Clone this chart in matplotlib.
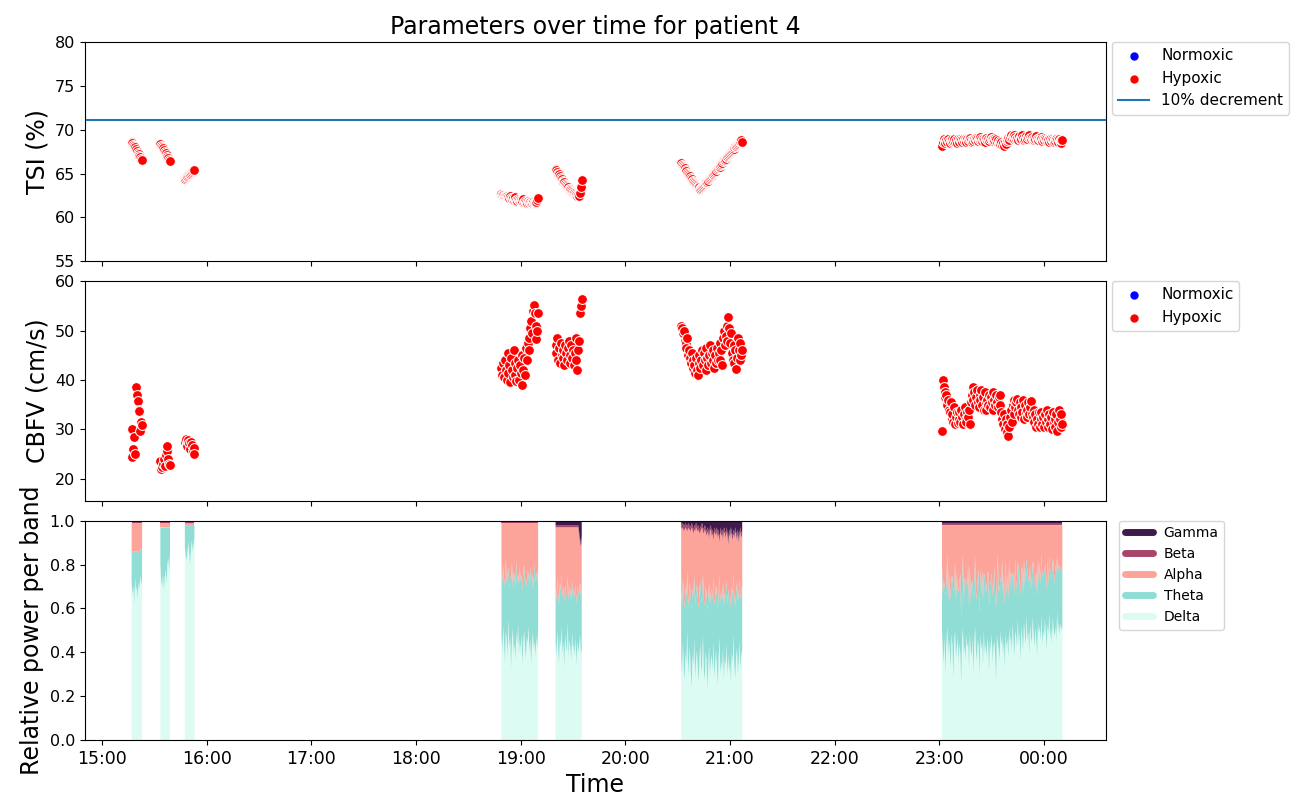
import numpy as np
import pandas as pd
import matplotlib
matplotlib.use("Agg")
import matplotlib.pyplot as plt
import matplotlib.dates as mdates
from matplotlib.lines import Line2D

# Inicio de cada tramo de registro (muestras cada 30 s)
segment_starts = ["2023-01-01 15:17:00", "2023-01-01 15:33:30", "2023-01-01 15:47:30",
                  "2023-01-01 18:49:00", "2023-01-01 19:20:00", "2023-01-01 20:32:00",
                  "2023-01-01 23:01:30"]

# TSI (%)
tsi = [
    [68.6, 68.5, 68.3, 68.2, 68.0, 67.8, 67.6, 67.4, 67.2, 67.0, 66.9, 66.7, 66.6],
    [68.4, 68.2, 68.0, 67.9, 67.7, 67.5, 67.3, 67.1, 66.9, 66.8, 66.6, 66.4],
    [64.4, 64.5, 64.6, 64.7, 64.8, 64.9, 65.0, 65.1, 65.2, 65.3, 65.4, 65.4],
    [62.7, 62.6, 62.6, 62.5, 62.5, 62.4, 62.5, 62.3, 62.3, 62.2, 62.4, 62.2, 62.1, 62.2, 62.0,
     62.1, 62.3, 62.0, 61.9, 62.1, 62.0, 61.9, 62.0, 61.8, 61.9, 62.1, 61.8, 61.9, 61.8, 61.7,
     61.9, 61.8, 61.7, 61.8, 61.7, 61.6, 61.8, 61.7, 61.6, 61.7, 61.8, 62.0, 62.2],
    [65.5, 65.4, 65.2, 65.0, 64.9, 64.7, 64.5, 64.4, 64.2, 64.1, 64.0, 63.8, 63.7, 63.6, 63.5,
     63.3, 63.2, 63.1, 63.0, 62.9, 62.8, 62.8, 62.7, 62.6, 62.6, 62.5, 62.6, 62.5, 62.8, 63.5,
     64.3],
    [66.2, 66.0, 65.9, 65.7, 65.6, 65.4, 65.3, 65.1, 65.0, 64.8, 64.7, 64.5, 64.4, 64.2, 64.1,
     63.9, 63.8, 63.7, 63.6, 63.5, 63.4, 63.5, 63.3, 63.4,
     63.5, 63.6, 63.7, 63.8, 63.9, 64.0, 64.1, 64.2, 64.4, 64.5, 64.6, 64.7, 64.8, 65.0, 65.1,
     65.2, 65.3, 65.5, 65.6, 65.7, 65.8, 66.0, 66.1, 66.2, 66.4, 66.5, 66.6, 66.7, 66.9, 67.0,
     67.1, 67.2, 67.4, 67.5, 67.6, 67.7, 67.8, 68.0, 68.1, 68.2, 68.3, 68.4, 68.5, 68.6, 68.7,
     68.8, 68.6],
    [68.2, 68.6, 68.9, 68.7, 68.5, 68.8, 68.6, 68.9, 68.7, 68.5, 68.8, 68.6, 68.9, 68.7, 69.0,
     68.6, 68.8, 68.5, 68.9, 68.7, 68.6, 69.0, 68.8, 68.6, 68.9, 68.7, 69.0, 68.8, 68.6, 68.9,
     68.7, 68.9, 69.1, 68.8, 68.6, 68.9, 68.7, 69.0, 68.8, 69.1, 68.9, 68.7, 69.0, 68.8, 69.2,
     68.9, 68.7, 69.0, 68.8, 68.6, 68.9, 69.1, 68.8, 69.0, 68.7, 68.9, 69.2, 68.9, 68.7, 69.0,
     68.8, 69.1, 68.9, 68.6, 68.8, 68.5, 68.7, 68.4, 68.6, 68.3, 68.5, 68.2, 68.6, 68.4, 68.7,
     68.9, 69.1, 68.8, 69.2, 69.4, 69.1, 69.3, 69.0, 69.4, 69.2, 68.9, 69.1, 68.8, 69.3, 69.0,
     69.2, 68.9, 69.4, 69.1, 68.8, 69.0, 69.3, 69.1, 68.9, 69.2, 69.4, 69.1, 68.9, 69.2, 69.0,
     68.8, 69.1, 68.9, 69.3, 69.0, 68.8, 69.1, 68.9, 69.2, 68.9, 68.7, 69.0, 68.8, 69.1, 68.9,
     68.7, 69.0, 68.8, 68.6, 68.9, 68.7, 69.0, 68.8, 68.6, 68.9, 68.7, 69.0, 68.8, 68.6, 68.9,
     68.7, 68.5, 68.8, 68.8],
]
tsi_threshold = 71.1  # 10% decrement

# CBFV (cm/s)
cbfv = [
    [30.0, 24.3, 26.0, 28.5, 25.0, 38.5, 36.9, 35.8, 34.0, 33.6, 29.7, 31.4, 30.8],
    [23.5, 22.0, 22.4, 23.0, 24.0, 22.6, 24.8, 25.6, 26.6, 24.0, 23.0, 22.8],
    [27.5, 28.0, 27.0, 26.5, 27.8, 27.2, 26.0, 27.5, 26.8, 25.5, 26.2, 25.0],
    [42.5, 41.0, 43.5, 40.5, 44.0, 42.0, 40.0, 45.5, 41.5, 43.0, 39.5, 44.5, 42.0, 40.5, 46.0,
     41.0, 43.5, 39.8, 42.5, 44.0, 40.0, 43.0, 41.5, 45.0, 39.0, 42.0, 44.5, 41.0, 46.5, 44.0,
     47.5, 48.6, 46.0, 50.5, 52.0, 49.5, 54.0, 55.3, 53.5, 51.0, 48.4, 50.0, 53.5],
    [47.0, 45.5, 48.5, 44.0, 46.5, 43.5, 47.5, 45.0, 44.5, 46.0, 43.0, 47.0, 45.5, 44.0, 46.5,
     48.0, 43.5, 45.0, 47.0, 44.5, 46.0, 43.0, 45.5, 48.5, 44.0, 42.0, 46.0, 48.0, 53.5, 55.0,
     56.5],
    [51.0, 50.5, 49.5, 50.0, 48.0, 47.5, 46.5, 48.5, 45.0, 46.0, 44.5, 43.5, 45.5, 42.5, 44.0,
     43.0, 41.5, 44.5, 42.0, 41.0, 43.5, 45.0, 42.5, 44.0, 46.0, 43.0, 45.5, 44.0, 42.0, 46.5,
     44.5, 43.0, 45.0, 47.0, 43.5, 45.5, 44.0, 46.0, 42.5, 45.0, 43.5, 46.5, 44.0, 45.5, 47.5,
     44.0, 46.0, 43.0, 48.5, 50.0, 47.0, 49.0, 51.0, 48.0, 52.7, 50.5, 47.5, 49.5, 45.5, 44.0,
     47.0, 43.5, 46.0, 42.3, 44.5, 48.5, 46.0, 44.0, 47.5, 45.0, 46.0],
    [29.7, 40.0, 38.5, 37.5, 36.5, 37.0, 35.0, 36.0, 34.0, 33.5, 35.5, 32.0, 33.0, 31.5, 34.5,
     31.0, 32.5, 33.5, 31.2, 32.0, 33.5, 31.5, 34.0, 32.5, 31.0, 33.0, 34.5, 32.0, 31.5, 33.5,
     32.5, 34.0, 31.0, 35.5, 37.0, 38.5, 36.0, 37.5, 35.0, 36.5, 38.0, 35.5, 34.5, 37.0, 36.0,
     38.0, 35.0, 36.5, 34.0, 37.5, 35.5, 33.8, 36.0, 35.0, 37.0, 34.5, 36.5, 35.5, 37.5, 34.0,
     36.0, 35.0, 37.0, 35.5, 34.5, 36.5, 36.9, 35.0, 33.5, 32.0, 31.0, 33.0, 30.0, 32.0, 29.5,
     31.0, 28.7, 30.5, 32.5, 34.0, 31.5, 35.0, 33.0, 36.0, 34.5, 35.5, 36.2, 34.0, 33.0, 35.5,
     32.5, 34.5, 33.5, 36.0, 32.0, 35.0, 33.5, 34.0, 32.5, 35.5, 33.0, 34.5, 35.8, 33.0, 32.5,
     34.0, 31.5, 33.0, 30.5, 32.0, 31.0, 33.5, 30.4, 32.0, 33.5, 31.0, 32.5, 30.5, 33.0, 31.5,
     34.0, 32.0, 30.5, 33.0, 31.0, 32.5, 30.0, 33.5, 31.5, 32.0, 30.5, 33.0, 29.7, 31.5, 33.8,
     32.0, 30.5, 33.0, 31.0],
]

# Potencia relativa por banda (%)
delta = [
    [72, 66, 70, 62, 74, 68, 70, 64, 72, 69, 75, 71, 73],
    [80, 72, 70, 76, 68, 74, 78, 71, 80, 83, 77, 85],
    [88, 84, 82, 86, 90, 85, 80, 87, 91, 86, 89, 92],
    [48, 40, 52, 44, 35, 50, 46, 38, 55, 42, 47, 33, 45, 51, 40, 44, 36, 49, 43, 53, 39, 46,
     41, 48, 34, 45, 50, 42, 37, 47, 44, 52, 40, 46, 35, 43, 49, 41, 45, 38, 47, 42, 50],
    [44, 38, 50, 41, 35, 47, 42, 52, 39, 45, 33, 48, 43, 40, 54, 37, 46, 42, 36, 49, 41, 44,
     38, 47, 34, 45, 40, 43, 48, 39, 42],
    [38, 30, 45, 33, 27, 40, 35, 50, 29, 37, 42, 31, 24, 39, 34, 46, 28, 36, 41, 33, 26, 38,
     44, 30, 35, 48, 32, 27, 40, 37, 23, 34, 43, 29, 36, 39, 31, 45, 28, 35, 41, 33, 25, 38,
     47, 30, 36, 32, 42, 27, 37, 34, 44, 29, 39, 31, 36, 26, 40, 35, 48, 33, 28, 38, 42, 30,
     36, 45, 32, 39, 41],
    [50, 42, 35, 47, 30, 44, 52, 38, 46, 41, 33, 48, 43, 28, 45, 50, 37, 42, 47, 35, 44, 40,
     26, 46, 51, 39, 43, 36, 48, 42, 45, 32, 49, 41, 38, 47, 30, 44, 52, 40, 36, 46, 43, 29,
     48, 41, 45, 34, 50, 39, 44, 37, 47, 42, 31, 46, 40, 49, 35, 43, 45, 38, 27, 48, 44, 41,
     36, 50, 43, 47, 39, 45, 33, 49, 42, 46, 37, 51, 44, 48, 40, 53, 45, 38, 50, 47, 42, 55,
     44, 49, 36, 52, 46, 41, 54, 48, 43, 57, 45, 50, 39, 53, 47, 44, 56, 49, 42, 51, 46, 38,
     54, 48, 52, 45, 57, 43, 50, 47, 55, 49, 41, 53, 48, 58, 46, 51, 44, 56, 50, 47, 52, 45,
     59, 49, 54, 48, 53, 51, 50],
]
theta = [
    [14, 20, 15, 24, 12, 18, 16, 22, 13, 17, 12, 16, 14],
    [17, 25, 27, 21, 29, 23, 19, 26, 17, 14, 20, 12],
    [10, 14, 16, 12, 8, 13, 18, 11, 7, 12, 9, 6],
    [30, 32, 28, 26, 39, 33, 25, 38, 24, 26, 28, 40, 36, 18, 37, 30, 34, 33, 29, 23, 32, 33,
     32, 27, 34, 32, 30, 30, 37, 23, 34, 23, 31, 33, 38, 33, 20, 33, 35, 34, 28, 35, 21],
    [26, 26, 24, 25, 27, 25, 26, 24, 26, 25, 30, 23, 24, 26, 21, 27, 24, 26, 27, 24, 25, 25,
     27, 24, 28, 25, 27, 25, 24, 27, 27],
    [30, 32, 29, 32, 33, 30, 31, 27, 32, 30, 30, 33, 35, 30, 32, 29, 34, 31, 30, 32, 34, 30,
     29, 33, 31, 28, 32, 34, 30, 30, 36, 31, 29, 33, 31, 30, 33, 29, 33, 31, 30, 32, 35, 30,
     28, 33, 31, 32, 30, 34, 30, 31, 29, 33, 30, 33, 30, 34, 30, 31, 28, 31, 33, 30, 30, 33,
     31, 29, 32, 30, 29],
    [30, 24, 38, 23, 36, 27, 33, 25, 32, 22, 35, 27, 31, 40, 24, 32, 26, 34, 21, 33, 28, 36,
     30, 25, 34, 23, 31, 37, 24, 29, 35, 27, 30, 22, 33, 26, 34, 29, 32, 24, 31, 27, 35, 28,
     30, 25, 33, 29, 26, 36, 23, 32, 28, 35, 30, 24, 33, 27, 31, 26, 34, 28, 33, 25, 41, 27,
     32, 24, 30, 35, 26, 31, 28, 33, 24, 30, 27, 32, 25, 29, 34, 23, 30, 28, 33, 22, 31, 26,
     35, 24, 30, 27, 32, 25, 29, 23, 34, 26, 31, 24, 33, 27, 22, 30, 25, 32, 28, 23, 31, 27,
     29, 24, 30, 26, 28, 33, 25, 29, 24, 31, 27, 30, 23, 26, 32, 25, 29, 27, 30, 24, 28, 31,
     25, 29, 26, 30, 24, 28, 27],
]
alpha = [
    [13, 13, 14, 13, 13, 13, 13, 13, 14, 13, 12, 12, 12],
    [2, 2, 2, 2, 2, 2, 2, 2, 2, 2, 2, 2],
    [1, 1, 1, 1, 1, 1, 1, 1, 1, 1, 1, 1],
    [21, 27, 19, 29, 25, 16, 28, 23, 20, 31, 24, 26, 18, 30, 22, 25, 29, 17, 27, 23, 28, 20,
     26, 24, 31, 22, 19, 27, 25, 29, 21, 24, 28, 20, 26, 23, 30, 25, 19, 27, 24, 22, 28],
    [27, 33, 23, 31, 35, 25, 29, 21, 32, 27, 34, 26, 30, 31, 22, 33, 27, 29, 34, 24, 31, 28,
     32, 26, 35, 27, 30, 25, 18, 22, 22],
    [29, 34, 23, 30, 36, 27, 30, 18, 36, 29, 24, 31, 38, 27, 28, 21, 33, 30, 25, 30, 36, 26,
     22, 33, 31, 19, 30, 35, 25, 26, 36, 29, 20, 33, 29, 24, 30, 17, 34, 28, 22, 30, 32, 26,
     15, 32, 26, 30, 19, 34, 27, 27, 22, 31, 20, 30, 26, 35, 23, 25, 18, 28, 34, 25, 19, 31,
     23, 19, 31, 23, 24],
    [18, 32, 25, 28, 32, 27, 13, 35, 20, 35, 30, 23, 24, 30, 29, 16, 35, 22, 30, 30, 26, 22,
     42, 27, 13, 36, 24, 25, 26, 27, 18, 39, 19, 35, 27, 25, 34, 25, 14, 34, 31, 25, 20, 41,
     20, 32, 20, 35, 22, 23, 31, 29, 23, 21, 37, 28, 25, 22, 32, 29, 19, 32, 38, 25, 13, 30,
     30, 24, 25, 16, 33, 22, 37, 16, 32, 22, 34, 15, 29, 21, 24, 22, 23, 32, 15, 29, 25, 17,
     19, 25, 32, 19, 20, 32, 15, 27, 21, 15, 22, 24, 26, 18, 29, 24, 17, 17, 28, 24, 21, 33,
     15, 26, 16, 27, 13, 22, 23, 22, 19, 18, 30, 15, 27, 14, 20, 22, 25, 15, 18, 27, 18, 22,
     14, 20, 18, 20, 21, 19, 21],
]
beta = [
    [1, 1, 1, 1, 1, 1, 1, 1, 1, 1, 1, 1, 1],
    [1, 1, 1, 1, 1, 1, 1, 1, 1, 1, 1, 1],
    [1, 1, 1, 1, 1, 1, 1, 1, 1, 1, 1, 1],
    [1, 1, 1, 1, 1, 1, 1, 1, 1, 1, 1, 1, 1, 1, 1, 1, 1, 1, 1, 1, 1, 1, 1, 1, 1, 1, 1, 1, 1,
     1, 1, 1, 1, 1, 1, 1, 1, 1, 1, 1, 1, 1, 1],
    [1, 1, 1, 1, 1, 1, 1, 1, 1, 1, 1, 1, 1, 1, 1, 1, 1, 1, 1, 1, 1, 1, 1, 1, 1, 1, 1, 2, 2,
     2, 2],
    [2, 2, 2, 2, 2, 2, 2, 2, 2, 2, 2, 2, 2, 2, 2, 2, 2, 2, 2, 2, 2, 2, 2, 2, 2, 2, 2, 2, 2,
     2, 2, 2, 2, 2, 2, 2, 2, 2, 2, 2, 2, 2, 2, 2, 2, 2, 2, 2, 2, 2, 2, 2, 2, 2, 2, 2, 2, 2,
     2, 2, 2, 2, 2, 2, 2, 2, 2, 2, 2, 2, 2],
    [1, 1, 1, 1, 1, 1, 1, 1, 1, 1, 1, 1, 1, 1, 1, 1, 1, 1, 1, 1, 1, 1, 1, 1, 1, 1, 1, 1, 1,
     1, 1, 1, 1, 1, 1, 1, 1, 1, 1, 1, 1, 1, 1, 1, 1, 1, 1, 1, 1, 1, 1, 1, 1, 1, 1, 1, 1, 1,
     1, 1, 1, 1, 1, 1, 1, 1, 1, 1, 1, 1, 1, 1, 1, 1, 1, 1, 1, 1, 1, 1, 1, 1, 1, 1, 1, 1, 1,
     1, 1, 1, 1, 1, 1, 1, 1, 1, 1, 1, 1, 1, 1, 1, 1, 1, 1, 1, 1, 1, 1, 1, 1, 1, 1, 1, 1, 1,
     1, 1, 1, 1, 1, 1, 1, 1, 1, 1, 1, 1, 1, 1, 1, 1, 1, 1, 1, 1, 1, 1, 1],
]

band_names = ["Delta", "Theta", "Alpha", "Beta", "Gamma"]
band_colors = ["#dcfbf3", "#8fddd4", "#fca49a", "#a8456b", "#3f1b4d"]

plt.rcParams['font.family'] = ['DejaVu Sans']

fig, axes = plt.subplots(3, 1, figsize=(13.03, 7.99), dpi=100, sharex=True)
fig.subplots_adjust(left=0.0652, right=0.8488, top=0.9474, bottom=0.0738, hspace=0.0913)
ax1, ax2, ax3 = axes

times = [pd.date_range(s, periods=len(v), freq="30s") for s, v in zip(segment_starts, tsi)]

# Panel TSI
ax1.scatter([], [], color="blue", s=25, label="Normoxic")
for t, v in zip(times, tsi):
    ax1.scatter(t, v, color="red", s=50, edgecolor="white", linewidth=0.75)
ax1.scatter([], [], color="red", s=25, label="Hypoxic")
ax1.axhline(tsi_threshold, color="#1f77b4", lw=1.5, label="10% decrement")
ax1.set_ylim(55, 80)
ax1.set_ylabel("TSI (%)", fontsize=17)
ax1.set_title("Parameters over time for patient 4", fontsize=17)
ax1.legend(loc="upper left", bbox_to_anchor=(1.006, 1.0), borderaxespad=0, fontsize=11)

# Panel CBFV
ax2.scatter([], [], color="blue", s=25, label="Normoxic")
for t, v in zip(times, cbfv):
    ax2.scatter(t, v, color="red", s=50, edgecolor="white", linewidth=0.75)
ax2.scatter([], [], color="red", s=25, label="Hypoxic")
ax2.set_ylim(15.5, 60)
ax2.set_yticks([20, 30, 40, 50, 60])
ax2.set_ylabel("CBFV (cm/s)", fontsize=17)
ax2.legend(loc="upper left", bbox_to_anchor=(1.006, 1.0), borderaxespad=0, fontsize=11)

# Panel EEG
for i, t in enumerate(times):
    d = np.array(delta[i]) / 100
    th = np.array(theta[i]) / 100
    a = np.array(alpha[i]) / 100
    b = np.array(beta[i]) / 100
    g = np.clip(1 - d - th - a - b, 0, None)
    ax3.stackplot(t, d, th, a, b, g, colors=band_colors, lw=0.3)
ax3.set_ylim(0, 1)
ax3.set_ylabel("Relative power per band", fontsize=17)
ax3.set_xlabel("Time", fontsize=17)
handles = [Line2D([0], [0], color=c, lw=5, solid_capstyle="round") for c in band_colors]
ax3.legend(handles[::-1], band_names[::-1], loc="upper left", bbox_to_anchor=(1.013, 1.0),
           borderaxespad=0, fontsize=10)

ax3.xaxis.set_major_locator(mdates.HourLocator())
ax3.xaxis.set_major_formatter(mdates.DateFormatter("%H:%M"))
ax3.set_xlim(pd.Timestamp("2023-01-01 14:50:15"), pd.Timestamp("2023-01-02 00:35:30"))

for ax in axes:
    ax.tick_params(axis="y", labelsize=11.5)
    ax.tick_params(axis="x", labelsize=12.5)

plt.savefig("out.png", dpi=100)
